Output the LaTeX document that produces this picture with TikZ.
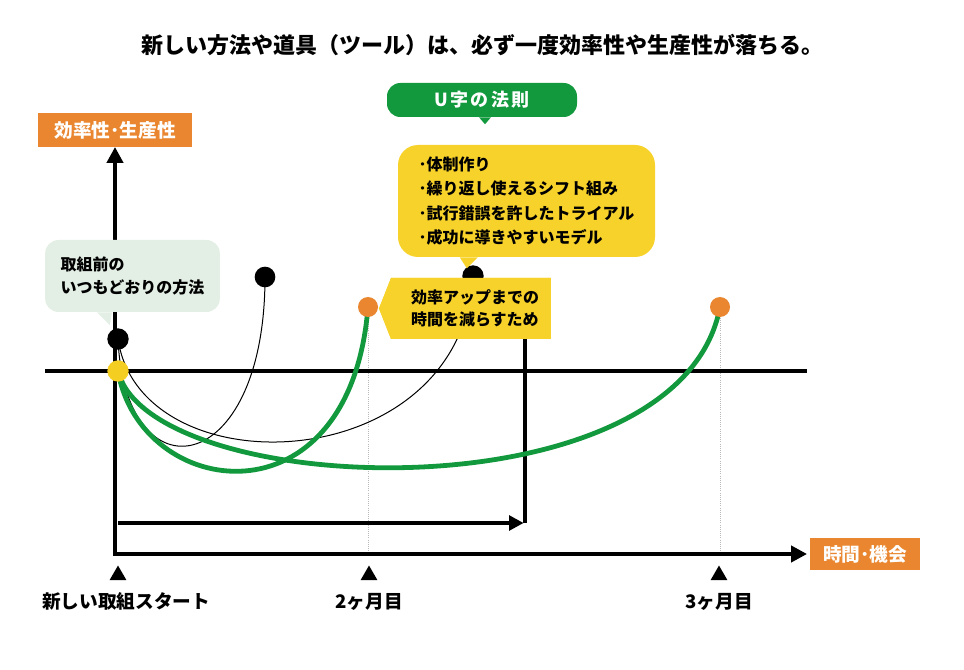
\documentclass[tikz,border=0pt]{standalone}
\usepackage{fontspec}
\setmainfont{Noto Sans CJK JP}
\newfontfamily\widefont{Noto Sans CJK JP}[LetterSpace=14]
\usepackage{xcolor}
\usepackage{tikz}
\usetikzlibrary{shapes,shapes.geometric,shapes.symbols}
\usetikzlibrary{calc,arrows,arrows.meta,positioning}
\definecolor{uorange}{HTML}{E9862F}
\definecolor{ugreen}{HTML}{12993E}
\definecolor{uyellow}{HTML}{F7D22B}
\definecolor{upale}{HTML}{E3EFE5}
\definecolor{udot}{HTML}{F5CE22}
\tikzset{
  axisbox/.style={fill=uorange, text=white, inner xsep=6pt, minimum
  height=25pt, font=\bfseries\fontsize{14}{15}\selectfont},
  axis/.style={line width=3pt, {Triangle[length=12pt,width=12pt]}-{Triangle[length=12pt,width=12pt]}},
  inner/.style={line width=3pt},
  dot/.style={circle, inner sep=0pt, minimum size=16pt},
  thinline/.style={line width=0.75pt},
  ucurve/.style={draw=ugreen, line width=3.6pt},
  guide/.style={draw=gray!55, densely dotted, line width=0.6pt},
  bubble/.style={rounded corners=10pt, align=left, inner sep=0pt,
  font=\bfseries\fontsize{12}{17.6}\selectfont},
  tickmark/.style={regular polygon, regular polygon sides=3, fill=black,
  inner sep=0pt, minimum size=14.5pt},
  ticklabel/.style={font=\bfseries\fontsize{14}{15}\selectfont}
}
\begin{document}
\begin{tikzpicture}[x=0.75pt,y=-0.75pt]
    \useasboundingbox (0,0) rectangle (964,670);
    \node (T) at (482,45) {\bfseries\fontsize{16.5}{18}\selectfont
    新しい方法や道具（ツール）は、必ず一度効率性や生産性が落ちる。};
    \coordinate (O) at (118,553);
    \node (YL) [axisbox,minimum width=115.5pt] at (115,130) {効率性･生産性};
    \node (XL) [axisbox,minimum width=82.5pt,minimum height=24pt] at (865,554) {時間･機会};
    \coordinate (B0) at (45,371);
    \coordinate (B1) at (807,371);
    \coordinate (I0) at (118,523);
    \coordinate (I1) at (525,523);
    \coordinate (p0) at (118,339);
    \coordinate (p1) at (118,371);
    \coordinate (p2) at (265,277);
    \coordinate (p3) at (368,307);
    \coordinate (p4) at (473,276);
    \coordinate (p5) at (720,307);
    \path[guide] (p3) edge (p3 |- O);
    \path[guide] (p5) edge (p5 |- O);
    \draw[inner] (B0) -- (B1);
    \draw[axis,shorten >=2pt] (YL.south) |- (XL.west);
    \draw[inner,-{Triangle[length=11pt,width=11pt]}] (I0) -- ([xshift=-1pt]I1);
    \node (M) [signal,signal to=west,signal pointer angle=137,fill=uyellow,
    minimum width=129pt,minimum height=45.75pt,inner sep=0pt,align=left,
    font=\bfseries\fontsize{12}{16.5}\selectfont] at (471,308.5)
    {\hspace{6pt}効率アップまでの\\\hspace{6pt}時間を減らすため};
    \draw[inner] (I1) -- (I1 |- M.south);
    % curves
    \draw[thinline] (p0) .. controls (125,500) and (265,480) .. (p2);
    \draw[thinline] (p0) .. controls (140,490) and (460,480) .. (p4);
    \draw[ucurve] (p1) .. controls (140,500) and (350,530) .. (p3);
    \draw[ucurve] (p1) .. controls (150,500) and (680,520) .. (p5);
    \node (D0) [dot,fill=black] at (p0) {};
    \node (D1) [dot,fill=udot] at (p1) {};
    \node (D2) [dot,fill=black,minimum size=15.5pt] at (p2) {};
    \node (D3) [dot,fill=uorange,minimum size=15pt] at (p3) {};
    \node (D4) [dot,fill=black] at (p4) {};
    \node (D5) [dot,fill=uorange,minimum size=15pt] at (p5) {};
    \node (M) [signal,signal to=west,signal pointer angle=137,fill=uyellow,
    minimum width=129pt,minimum height=45.75pt,inner sep=0pt,align=left,
    font=\bfseries\fontsize{12}{16.5}\selectfont] at (471,308.5)
    {\hspace{6pt}効率アップまでの\\\hspace{6pt}時間を減らすため};
    % bubbles
    \node (A) [bubble,fill=upale,minimum width=131pt,minimum height=54pt]
    at (132.5,276) {取組前の\\いつもどおりの方法};
    \fill[upale] ($(A.south west)+(52,0)$) -- ($(A.south west)+(67,0)$)
    -- ($(A.south west)+(65,13)$) -- cycle;
    \node (G) [bubble,fill=ugreen,text=white,minimum width=142.5pt,
    minimum height=25.5pt,font=\bfseries\fontsize{13.5}{15}\selectfont]
    at (482,100) {\widefont U字の法則};
    \fill[ugreen] ($(G.south)+(-3,0)$) -- ($(G.south)+(9,0)$)
    -- ($(G.south)+(3,7)$) -- cycle;
    \node (Y) [bubble,fill=uyellow,rounded corners=15pt,minimum width=192.75pt,
    minimum height=84pt,font=\bfseries\fontsize{12}{18.2}\selectfont]
    at (526.5,201) {･体制作り\\･繰り返し使えるシフト組み\\
    ･試行錯誤を許したトライアル\\･成功に導きやすいモデル};
    \fill[uyellow] ($(Y.south west)+(62,0)$) -- ($(Y.south west)+(80,0)$)
    -- ($(Y.south west)+(69,11)$) -- cycle;
    % ticks
    \node (t0) [tickmark,anchor=north] at (118,565) {};
    \node (t1) [tickmark,anchor=north] at (369,565) {};
    \node (t2) [tickmark,anchor=north] at (719,565) {};
    \node (L0) [ticklabel,below=6pt of t0,xshift=6pt] {新しい取組スタート};
    \node (L1) [ticklabel,below=6pt of t1] {2ヶ月目};
    \node (L2) [ticklabel,below=6pt of t2] {3ヶ月目};
\end{tikzpicture}
\end{document}
